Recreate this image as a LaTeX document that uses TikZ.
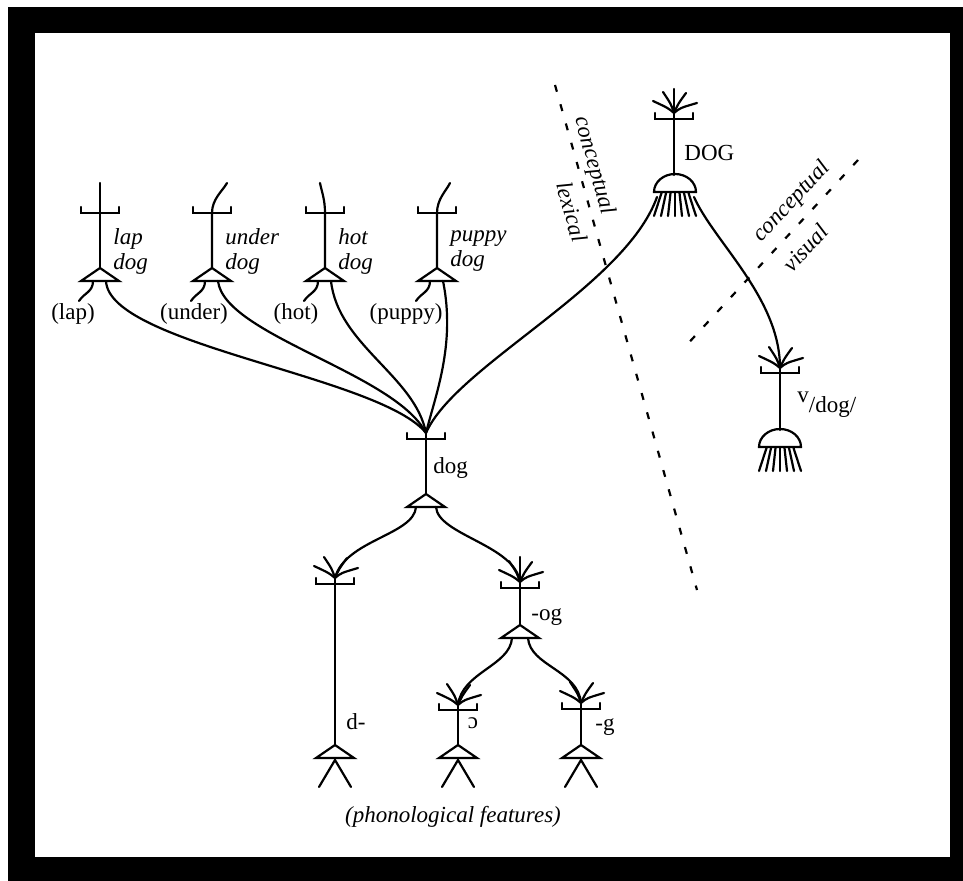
\documentclass[tikz,border=0pt]{standalone}
\usepackage{fontspec}
\setmainfont{Liberation Serif}
\usetikzlibrary{positioning,calc}

\tikzset{
  nerve/.style={line width=1.1pt, line cap=round},
  gloss/.style={font=\fontsize{11.5}{12.5}\selectfont\itshape, inner sep=0pt, align=left},
  word/.style={font=\fontsize{11.5}{13}\selectfont, inner sep=0pt},
  border/.style={line width=1.1pt, dash pattern=on 3.5pt off 6.5pt},
  % synapse bar, output triangle, legs, dome and dendrite fan
  pics/synbar/.style={code={\draw[nerve] (-19,-6) -- (-19,0) -- (19,0) -- (19,-6);}},
  pics/hillock/.style={code={\draw[nerve] (0,0) -- (-19,13) -- (19,13) -- cycle;}},
  pics/legs/.style={code={\draw[nerve] (-16,42) -- (0,15) -- (16,42);}},
  pics/dome/.style={code={
    \draw[nerve] (-21,0) arc[start angle=180, end angle=360, x radius=21, y radius=18] -- cycle;
    \foreach \k in {-3,...,3} \draw[nerve] (\k*4.5,1) -- (\k*7,24);}},
  pics/fan/.style={code={
    \draw[nerve] (0,0) .. controls (-6,-5) .. (-21,-12);
    \draw[nerve] (0,0) .. controls (-3,-9) .. (-11,-21);
    \draw[nerve] (0,0) .. controls (4,-9) .. (12,-20);
    \draw[nerve] (0,0) .. controls (6,-5) .. (23,-10);}},
}

\begin{document}
\begin{tikzpicture}[x=0.5pt, y=-0.5pt]

  % frame
  \fill[white] (0,0) rectangle (963,881);
  \fill[black] (8,7) rectangle (963,881);
  \fill[white] (35,33) rectangle (950,857);

  % lexical units
  \foreach \nm/\xx/\tip/\wx in {lap/100/0/73, under/212/15/194, hot/325/-5/296, puppy/437/13/406}{
    \coordinate (\nm-top) at (\xx+\tip,183);
    \coordinate (\nm-bar) at (\xx,213);
    \coordinate (\nm-out) at (\xx,268);
    \coordinate (\nm-l) at (\xx-7,281);
    \coordinate (\nm-r) at (\xx+6,281);
    \coordinate (\nm-src) at (\xx-21,301);
    \draw[nerve] (\nm-out) -- (\nm-bar) .. controls +(0,-14) and +({-0.3*(\tip)},8) .. (\nm-top);
    \pic at (\nm-bar) {synbar};
    \pic at (\nm-out) {hillock};
    \draw[nerve] (\nm-l) .. controls +(0,11) and +(5,-8) .. (\nm-src);
    \node[word] (\nm-word) at (\wx,314) {(\nm)};
    \node[gloss, anchor=west] (\nm-gloss) at (\xx+13,251) {\nm\\dog};
  }

  % dog
  \coordinate (dog-in) at (426,433);
  \coordinate (dog-bar) at (426,439);
  \coordinate (dog-out) at (426,494);
  \coordinate (dog-l) at (416,507);
  \coordinate (dog-r) at (436,507);
  \draw[nerve] (dog-in) -- (dog-out);
  \pic at (dog-bar) {synbar};
  \pic at (dog-out) {hillock};
  \node[word, anchor=west] (dog-word) at (433,468) {dog};

  \foreach \nm/\a/\b/\c/\d in {lap/3/64/-46/-57, under/6/54/-31/-60, hot/7/64/-11/-57, puppy/13/64/9/-37}
    \draw[nerve] (\nm-r) .. controls +(\a,\b) and +(\c,\d) .. (dog-in);

  % DOG
  \coordinate (DOG-in) at (674,113);
  \coordinate (DOG-bar) at (674,119);
  \coordinate (DOG-base) at (675,192);
  \coordinate (DOG-l) at (657,197);
  \coordinate (DOG-r) at (694,197);
  \draw[nerve] (DOG-in) -- (674,175);
  \draw[nerve] (DOG-in) -- +(0,-24);
  \pic at (DOG-in) {fan};
  \pic at (DOG-bar) {synbar};
  \pic at (DOG-base) {dome};
  \node[word, anchor=west] (DOG-word) at (684,153) {DOG};
  \draw[nerve] (DOG-l) .. controls +(-32,90) and +(29,-67) .. (dog-in);

  % visual
  \coordinate (vis-in) at (780,368);
  \coordinate (vis-bar) at (780,373);
  \coordinate (vis-base) at (780,447);
  \draw[nerve] (vis-in) -- (780,430);
  \pic at (vis-in) {fan};
  \pic at (vis-bar) {synbar};
  \pic at (vis-base) {dome};
  \node[word, anchor=west] (vis-word) at (797,405) {\raisebox{5pt}{v}/dog/};
  \draw[nerve] (DOG-r) .. controls +(20,45) and +(0,-70) .. (vis-in);

  % phonological units
  \coordinate (d-in) at (335,578);
  \coordinate (d-bar) at (335,584);
  \coordinate (d-out) at (335,745);
  \coordinate (og-in) at (520,582);
  \coordinate (og-bar) at (520,588);
  \coordinate (og-out) at (520,625);
  \coordinate (og-l) at (512,638);
  \coordinate (og-r) at (528,638);
  \coordinate (o-in) at (458,705);
  \coordinate (o-bar) at (458,710);
  \coordinate (o-out) at (458,745);
  \coordinate (g-in) at (581,703);
  \coordinate (g-bar) at (581,709);
  \coordinate (g-out) at (581,745);

  \foreach \u in {d,og,o,g}{
    \draw[nerve] (\u-in) -- (\u-out);
    \pic at (\u-in) {fan};
    \pic at (\u-bar) {synbar};
    \pic at (\u-out) {hillock};
  }
  \draw[nerve] (og-in) -- +(0,-25);
  \foreach \u in {d,o,g} \pic at (\u-out) {legs};

  \draw[nerve] (dog-l) .. controls +(-2,28) and +(10,-38) .. (d-in);
  \draw[nerve] (dog-r) .. controls +(2,28) and +(-5,-37) .. (og-in);
  \draw[nerve] (og-l) .. controls +(-2,28) and +(4,-33) .. (o-in);
  \draw[nerve] (og-r) .. controls +(2,28) and +(-3,-33) .. (g-in);

  \node[word, anchor=west] (og-word) at (531,617) {-og};
  \node[word, anchor=west] (d-word) at (346,722) {d-};
  \node[word] (o-word) at (473,723) {ɔ};
  \node[word, anchor=west] (g-word) at (595,727) {-g};
  \node[gloss] (features) at (453,817) {(phonological features)};

  % boundaries
  \coordinate (lex-a) at (555,85);
  \coordinate (lex-b) at (697,590);
  \draw[border] (lex-a) -- (lex-b);
  \node[gloss, rotate=-74.3] (lex-up) at (594,166) {conceptual};
  \node[gloss, rotate=-74.3] (lex-down) at (572,212) {lexical};

  \coordinate (vis-a) at (858,160);
  \coordinate (vis-b) at (682,350);
  \draw[border] (vis-a) -- (vis-b);
  \node[gloss, rotate=47.2] (vis-up) at (792,202) {conceptual};
  \node[gloss, rotate=47.2] (vis-down) at (805,248) {visual};

\end{tikzpicture}
\end{document}
